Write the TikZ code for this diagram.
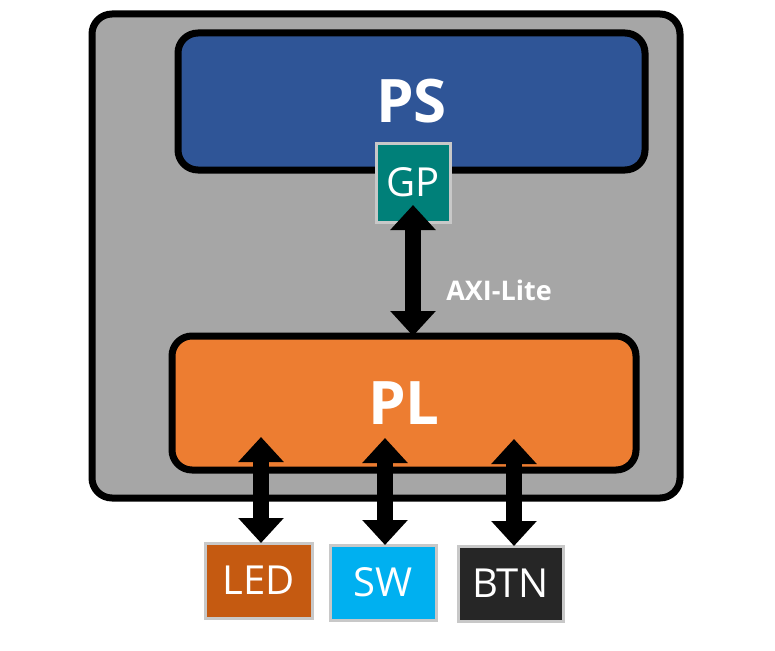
\documentclass[tikz,border=0pt]{standalone}
\usepackage{fontspec}
\setmainfont{Open Sans}
\usetikzlibrary{arrows.meta}
\definecolor{outerfill}{HTML}{A6A6A6}
\definecolor{psblue}{HTML}{2F5597}
\definecolor{gpteal}{HTML}{008079}
\definecolor{plorange}{HTML}{ED7D31}
\definecolor{ledc}{HTML}{C55A11}
\definecolor{swc}{HTML}{00B0F0}
\definecolor{btnc}{HTML}{262626}
\definecolor{lightborder}{HTML}{C8C8C8}
\begin{document}
\begin{tikzpicture}[x=1pt,y=-1pt,
  bigbox/.style={draw=black,line width=7pt,rounded corners=20pt,inner sep=0pt,outer sep=0pt},
  smallbox/.style={draw=lightborder,line width=3pt,inner sep=0pt,outer sep=0pt,text=white,font=\fontsize{40}{42}\selectfont},
  bus/.style={line width=16pt,{Triangle[width=44pt,length=25pt]}-{Triangle[width=44pt,length=25pt]}}
]
\useasboundingbox (0,0) rectangle (775,650);
\node[bigbox,fill=outerfill,minimum width=588pt,minimum height=484pt] (chip) at (386,256) {};
\node[bigbox,fill=psblue,minimum width=467pt,minimum height=137pt,text=white,font=\fontsize{60}{62}\selectfont\bfseries] (ps) at (411.5,101.5) {PS};
\node[smallbox,fill=gpteal,minimum width=74pt,minimum height=79pt] (gp) at (413,182.5) {GP};
\node[bigbox,fill=plorange,minimum width=464pt,minimum height=134pt,text=white,font=\fontsize{60}{62}\selectfont\bfseries] (pl) at (404,403) {PL};
\node[smallbox,fill=ledc,minimum width=107pt,minimum height=75pt] (led) at (258.5,580.5) {LED};
\node[smallbox,fill=swc,minimum width=106pt,minimum height=75pt] (sw) at (383,582.5) {SW};
\node[smallbox,fill=btnc,minimum width=105pt,minimum height=75pt] (btn) at (510.5,583.5) {BTN};
\draw[bus] ([yshift=17pt]gp.south) -- (gp.south |- pl.north);
\node[text=white,font=\fontsize{27}{29}\selectfont\bfseries] (axi) at (499,290) {AXI-Lite};
\coordinate (ledtop) at (261,437);
\coordinate (swtop) at (385,438);
\coordinate (btntop) at (514,439);
\draw[bus] (ledtop) -- (ledtop |- led.north);
\draw[bus] (swtop) -- (swtop |- sw.north);
\draw[bus] (btntop) -- (btntop |- btn.north);
\end{tikzpicture}
\end{document}
